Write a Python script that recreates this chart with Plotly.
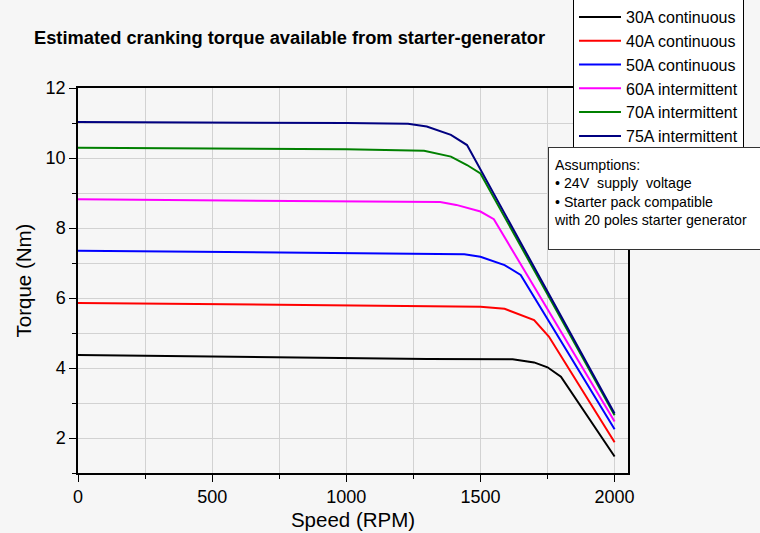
import plotly.graph_objects as go

title = "Estimated cranking torque available from starter-generator"
names = ["30A continuous", "40A continuous", "50A continuous",
         "60A intermittent", "70A intermittent", "75A intermittent"]
colors = ["#000000", "#ff0000", "#0000ff", "#ff00ff", "#008000", "#000080"]

rpm_30 = [0, 250, 500, 1000, 1300, 1620, 1700, 1750, 1800, 2000]
t_30 = [4.37, 4.35, 4.31, 4.27, 4.26, 4.25, 4.16, 4.02, 3.75, 1.47]

rpm_40 = [0, 500, 1000, 1500, 1590, 1700, 1755, 2000]
t_40 = [5.86, 5.83, 5.78, 5.75, 5.69, 5.37, 4.9, 1.88]

rpm_50 = [0, 500, 1000, 1440, 1500, 1590, 1650, 2000]
t_50 = [7.35, 7.31, 7.28, 7.25, 7.18, 6.94, 6.66, 2.25]

rpm_60 = [0, 500, 1000, 1350, 1410, 1500, 1550, 2000]
t_60 = [8.82, 8.79, 8.76, 8.74, 8.66, 8.47, 8.25, 2.47]

rpm_70 = [0, 500, 1000, 1290, 1390, 1450, 1500, 2000]
t_70 = [10.29, 10.28, 10.25, 10.21, 10.04, 9.8, 9.56, 2.65]

rpm_75 = [0, 500, 1000, 1230, 1300, 1390, 1450, 2000]
t_75 = [11.03, 11.02, 11.0, 10.98, 10.9, 10.66, 10.37, 2.7]

x_ticks = [0, 500, 1000, 1500, 2000]
y_ticks = [2, 4, 6, 8, 10, 12]

assumptions = ["Assumptions:", "\u2022 24V\u00a0 supply\u00a0 voltage",
               "\u2022 Starter pack compatible", "with 20 poles starter generator"]

series = [(rpm_30, t_30), (rpm_40, t_40), (rpm_50, t_50),
          (rpm_60, t_60), (rpm_70, t_70), (rpm_75, t_75)]

FONT = "Arial, 'Liberation Sans', sans-serif"
fig = go.Figure()
for (x, y), n, c in zip(series, names, colors):
    fig.add_trace(go.Scatter(x=x, y=y, name=n, mode="lines",
                             line=dict(color=c, width=2)))

axis_common = dict(showline=True, linecolor="black", linewidth=1.5, mirror=True,
                   ticks="outside", ticklen=7, tickwidth=1.2, tickcolor="black",
                   showgrid=True, gridcolor="#d2d2d2", gridwidth=1, zeroline=False,
                   tickfont=dict(size=18, color="black", family=FONT))

fig.update_xaxes(range=[0, 2050], tickvals=x_ticks, ticktext=[str(v) for v in x_ticks],
                 minor=dict(dtick=250, tick0=0, ticks="outside", ticklen=4,
                            tickcolor="black", showgrid=True, gridcolor="#d2d2d2"),
                 title=dict(text="Speed (RPM)", font=dict(size=20.5, family=FONT, color="black"),
                            standoff=6),
                 **axis_common)
fig.update_yaxes(range=[1, 12], tickvals=y_ticks, ticktext=[str(v) for v in y_ticks],
                 minor=dict(dtick=1, tick0=0, ticks="outside", ticklen=4,
                            tickcolor="black", showgrid=True, gridcolor="#d2d2d2"),
                 title=dict(text="Torque (Nm)", font=dict(size=20.5, family=FONT, color="black"),
                            standoff=8),
                 **axis_common)

# Assumptions box (frame) and its text
fig.add_annotation(xref="paper", yref="paper", x=(548 - 78) / 550, y=(473 - 147) / 385,
                   xanchor="left", yanchor="top", showarrow=False,
                   text="\u00a0", width=240, height=101, bgcolor="white",
                   bordercolor="#333333", borderwidth=1, borderpad=0,
                   font=dict(size=10, family=FONT, color="black"))
fig.add_annotation(xref="paper", yref="paper", x=(553 - 78) / 550, y=(473 - 156) / 385,
                   xanchor="left", yanchor="top", showarrow=False,
                   text="<br>".join(assumptions), align="left", borderpad=0,
                   font=dict(size=14.2, family=FONT, color="black"))

fig.add_annotation(xref="paper", yref="paper", x=(32 - 78) / 550, y=(473 - 38) / 385,
                   xanchor="left", yanchor="middle", showarrow=False,
                   text="<b>" + title + "</b>",
                   font=dict(size=18.3, family=FONT, color="black"))

fig.update_layout(
    width=760, height=533,
    margin=dict(l=78, r=132, t=88, b=60, autoexpand=False),
    paper_bgcolor="#f6f6f6", plot_bgcolor="#f6f6f6",
    font=dict(family=FONT, color="black"),
    showlegend=True,
    legend=dict(x=(573 - 78) / 550, y=(473 + 1) / 385, xanchor="left", yanchor="top",
                bgcolor="white", bordercolor="black", borderwidth=1,
                font=dict(size=16, family=FONT, color="black"),
                itemwidth=42, tracegroupgap=0, maxheight=400),
)

fig.write_html("out.html", config={"displayModeBar": False},
               post_script="document.body.style.margin='0px';")
